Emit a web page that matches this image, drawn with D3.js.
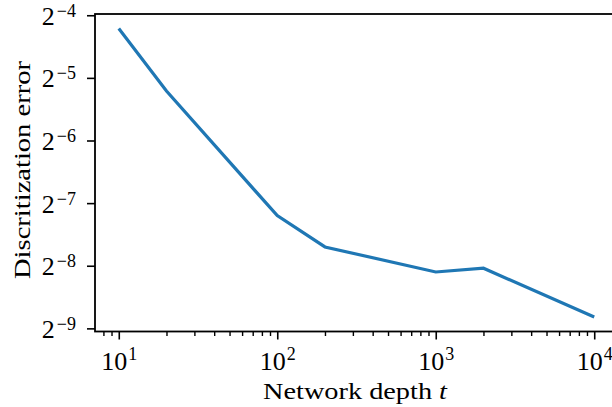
<!DOCTYPE html>
<html>
<head>
<meta charset="utf-8">
<script src="https://cdn.jsdelivr.net/npm/d3@7"></script>
<style>
  body { margin: 0; background: #fff; }
  text { font-family: "Liberation Serif", "DejaVu Serif", serif; fill: #000; }
</style>
</head>
<body>
<div id="plotContainer"></div>
<script>
// data
const depths = [10, 20, 100, 200, 1000, 2000, 10000];
const errors = [0.05403, 0.02702, 0.006801, 0.004810, 0.003645, 0.003800, 0.002213];
const xTickExps = [1, 2, 3, 4];
const yTickExps = [-9, -8, -7, -6, -5, -4];

const W = 612, H = 407;
const box = {left: 95, right: 618, top: 14, bottom: 331.5};

const svg = d3.select("#plotContainer")
  .append("svg")
    .attr("width", W)
    .attr("height", H);

// log axes, matplotlib style 5% margins
const x = d3.scaleLog()
  .domain([Math.pow(10, 0.85), Math.pow(10, 4.15)])
  .range([box.left, box.right]);

const y = d3.scaleLog().base(2)
  .domain([Math.pow(2, -9.05), Math.pow(2, -3.98)])
  .range([box.bottom, box.top]);

// minor ticks on x
const minor = x.ticks().filter(function(d) {
  return Math.abs(Math.log10(d) - Math.round(Math.log10(d))) > 1e-9;
});
svg.append("g")
  .attr("transform", `translate(0,${box.bottom})`)
  .call(d3.axisBottom(x).tickValues(minor).tickSize(4.5).tickFormat(""))
  .call(g => g.select(".domain").remove())
  .selectAll("line").attr("stroke-width", 1.4);

// major x ticks
const xAxis = svg.append("g")
  .attr("transform", `translate(0,${box.bottom})`)
  .call(d3.axisBottom(x)
    .tickValues(xTickExps.map(e => Math.pow(10, e)))
    .tickSize(8).tickFormat(""));
xAxis.select(".domain").remove();
xAxis.selectAll("line").attr("stroke-width", 1.6);
xAxis.selectAll(".tick").each(function(d) {
  const t = d3.select(this).append("text")
    .attr("y", 38.5)
    .attr("text-anchor", "middle")
    .style("font-size", "26px");
  t.append("tspan").text("10");
  t.append("tspan").attr("dx", 1).attr("dy", -10).style("font-size", "18px").text(Math.round(Math.log10(d)));
});

// y ticks
const yAxis = svg.append("g")
  .attr("transform", `translate(${box.left},0)`)
  .call(d3.axisLeft(y)
    .tickValues(yTickExps.map(e => Math.pow(2, e)))
    .tickSize(8).tickFormat(""));
yAxis.select(".domain").remove();
yAxis.selectAll("line").attr("stroke-width", 1.6);
yAxis.selectAll(".tick").each(function(d) {
  const t = d3.select(this).append("text")
    .attr("x", -19)
    .attr("y", 9)
    .attr("text-anchor", "end")
    .style("font-size", "26px");
  t.append("tspan").text("2");
  t.append("tspan").attr("dx", 2).attr("dy", -8).style("font-size", "18px")
    .text("\u2212" + Math.abs(Math.round(Math.log2(d))));
});

// spines (right one falls outside the picture)
svg.append("rect")
  .attr("x", box.left).attr("y", box.top)
  .attr("width", box.right - box.left).attr("height", box.bottom - box.top)
  .attr("fill", "none")
  .attr("stroke", "#000")
  .attr("stroke-width", 1.8);

// the line
svg.append("path")
  .datum(depths.map((d, i) => [d, errors[i]]))
  .attr("d", d3.line()
    .x(function(d) { return x(d[0]) })
    .y(function(d) { return y(d[1]) })
  )
  .attr("stroke", "#1f77b4")
  .style("stroke-width", 3.2)
  .style("fill", "none");

// axis labels
const xl = svg.append("text")
  .attr("x", 355)
  .attr("y", 399)
  .attr("text-anchor", "middle")
  .attr("textLength", 184)
  .attr("lengthAdjust", "spacingAndGlyphs")
  .style("font-size", "24px");
xl.append("tspan").text("Network depth ");
xl.append("tspan").style("font-style", "italic").text("t");

svg.append("text")
  .attr("transform", "translate(30,170) rotate(-90)")
  .attr("text-anchor", "middle")
  .attr("textLength", 218)
  .attr("lengthAdjust", "spacingAndGlyphs")
  .style("font-size", "24px")
  .text("Discritization error");
</script>
</body>
</html>
